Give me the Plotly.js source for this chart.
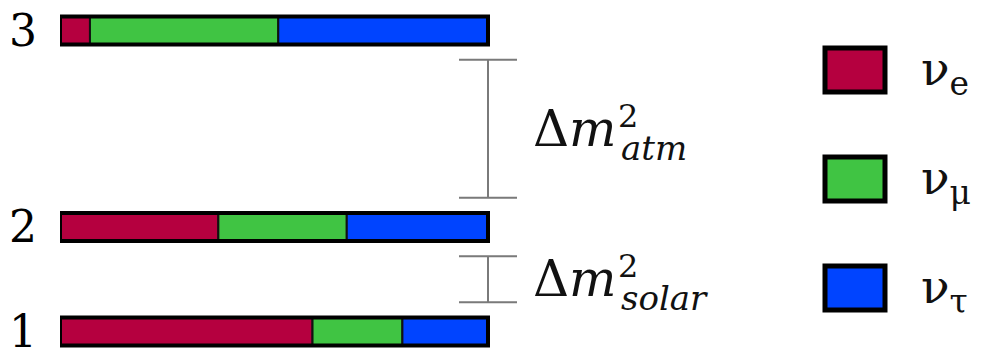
<!DOCTYPE html>
<html>
<head>
<meta charset="utf-8">
<script src="https://cdn.plot.ly/plotly-3.0.1.min.js"></script>
<style>html,body{margin:0;padding:0;background:#fff;}#chart{width:982px;height:352px;}</style>
</head>
<body>
<div id="chart"></div>
<script>
// ---- data ----
var levelLabels = ['1', '2', '3'];
var levelY = [1, 2, 3.88];          // schematic mass-squared positions
var nuE   = [0.59, 0.37, 0.07];     // electron flavour fraction
var nuMu  = [0.21, 0.30, 0.44];     // muon flavour fraction
var nuTau = [0.20, 0.33, 0.49];     // tau flavour fraction
var splitNames = ['atm', 'solar'];
var splitFrom  = [2, 1];            // lower level
var splitTo    = [3.88, 2];         // upper level
var flavourNames = ['e', 'μ', 'τ'];

// ---- styles ----
var colE = '#B5003F', colMu = '#40C443', colTau = '#0044FF';
var W = 982, H = 352, ML = 60;
var barThick = 0.268;
var pad = 0.28;
var serif = 'DejaVu Serif';

function cum(a, b) { return a.map(function (v, i) { return v + (b ? b[i] : 0); }); }
var baseMu = nuE.slice();
var baseTau = cum(nuE, nuMu);
var total = cum(baseTau, nuTau);

function seg(name, x, base, color) {
  return {
    type: 'bar', orientation: 'h', name: name,
    y: levelY, x: x, base: base, width: barThick,
    marker: { color: color, line: { color: '#111', width: 2 } },
    showlegend: false, hoverinfo: 'skip'
  };
}

var traces = [
  seg('νe', nuE, nuE.map(function () { return 0; }), colE),
  seg('νμ', nuMu, baseMu, colMu),
  seg('ντ', nuTau, baseTau, colTau),
  {
    type: 'bar', orientation: 'h', y: levelY, x: total, width: barThick,
    marker: { color: 'rgba(0,0,0,0)', line: { color: '#000', width: 4 } },
    showlegend: false, hoverinfo: 'skip'
  }
];

// splitting brackets drawn as error bars
var bx = [], by = [], be = [];
for (var i = 0; i < splitNames.length; i++) {
  bx.push(1);
  by.push((splitFrom[i] + splitTo[i]) / 2);
  be.push((splitTo[i] - splitFrom[i]) / 2 - pad);
}
traces.push({
  type: 'scatter', mode: 'markers', x: bx, y: by,
  marker: { size: 1, color: 'rgba(0,0,0,0)' },
  error_y: { type: 'data', array: be, symmetric: true, color: '#7a7a7a', thickness: 2, width: 29 },
  showlegend: false, hoverinfo: 'skip'
});

var yTop = 3.88 + 30.5 / 104.5;
var yBot = yTop - H / 104.5;

var annotations = [];
for (var j = 0; j < splitNames.length; j++) {
  annotations.push({
    x: bx[j], y: by[j], xref: 'x', yref: 'y', xanchor: 'left', yanchor: 'middle',
    xshift: 43, yshift: 0, showarrow: false,
    text: 'Δ<i>m</i>', font: { family: serif, size: 50, color: '#111' }
  });
  annotations.push({
    x: bx[j], y: by[j], xref: 'x', yref: 'y', xanchor: 'left', yanchor: 'middle',
    xshift: 128, yshift: 13, showarrow: false,
    text: '2', font: { family: serif, size: 32, color: '#111' }
  });
  annotations.push({
    x: bx[j], y: by[j], xref: 'x', yref: 'y', xanchor: 'left', yanchor: 'middle',
    xshift: 131, yshift: -19, showarrow: false,
    text: '<i>' + splitNames[j] + '</i>', font: { family: serif, size: 34, color: '#111' }
  });
}

// legend (drawn manually to get large swatches)
function px(x) { return (x - ML) / (W - ML); }
function py(y) { return 1 - y / H; }
var legendCols = [colE, colMu, colTau];
var legendCY = [70, 179, 288];
var shapes = [];
for (var k = 0; k < 3; k++) {
  shapes.push({
    type: 'rect', xref: 'paper', yref: 'paper',
    x0: px(825), x1: px(885), y0: py(legendCY[k] - 22), y1: py(legendCY[k] + 22),
    fillcolor: legendCols[k], line: { color: '#000', width: 5 }
  });
  annotations.push({
    x: px(919), y: py(legendCY[k] + 2), xref: 'paper', yref: 'paper',
    xanchor: 'left', yanchor: 'middle', showarrow: false,
    text: 'ν<sub>' + flavourNames[k] + '</sub>',
    font: { family: serif, size: 47, color: '#111' }
  });
}

var layout = {
  width: W, height: H,
  margin: { l: ML, r: 0, t: 0, b: 0 },
  paper_bgcolor: '#fff', plot_bgcolor: '#fff',
  barmode: 'overlay',
  hovermode: false,
  xaxis: { range: [0, (W - ML) / 428], visible: false, fixedrange: true },
  yaxis: {
    range: [yBot, yTop], fixedrange: true,
    tickvals: levelY, ticktext: levelLabels,
    showgrid: false, zeroline: false, showline: false, ticks: '',
    ticklabelstandoff: 22, ticklabeloverflow: 'allow',
    tickfont: { family: serif, size: 44, color: '#000' }
  },
  shapes: shapes,
  annotations: annotations,
  showlegend: false
};

Plotly.newPlot('chart', traces, layout, { displayModeBar: false, staticPlot: true });
</script>
</body>
</html>
